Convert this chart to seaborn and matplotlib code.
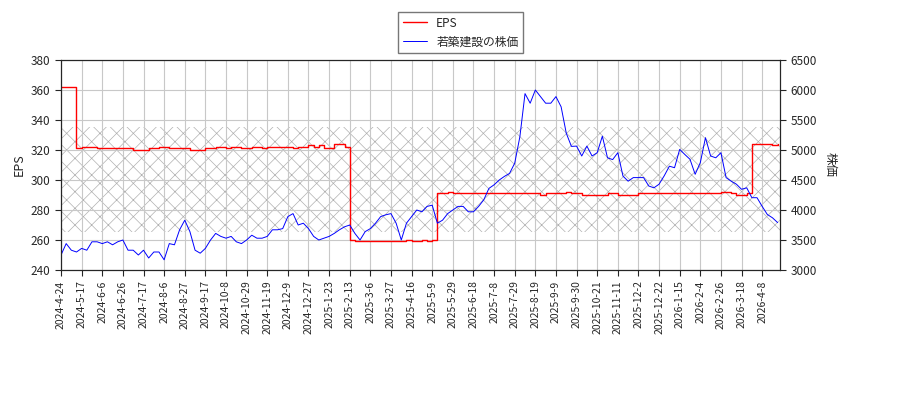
import matplotlib
matplotlib.use("Agg")
import matplotlib.pyplot as plt
import seaborn as sns
import pandas as pd
import numpy as np

sns.set_style("white")
plt.rcParams['font.family'] = ['Noto Sans CJK JP', 'DejaVu Sans']
plt.rcParams['hatch.linewidth'] = 0.5

# four readings per tick interval
price = [3250, 3440, 3330, 3300,  3360, 3330, 3470, 3470,  3440, 3470, 3420, 3470,
         3500, 3330, 3330, 3250,  3330, 3200, 3300, 3300,  3170, 3440, 3420, 3670,
         3830, 3640, 3330, 3280,  3360, 3500, 3610, 3560,  3530, 3560, 3470, 3440,
         3500, 3580, 3530, 3530,  3560, 3670, 3670, 3690,  3890, 3940, 3750, 3780,
         3690, 3560, 3500, 3530,  3560, 3610, 3670, 3720,  3750, 3610, 3500, 3640,
         3690, 3780, 3890, 3920,  3940, 3780, 3500, 3780,  3890, 4000, 3970, 4060,
         4080, 3780, 3830, 3940,  4000, 4060, 4060, 3970,  3970, 4060, 4170, 4360,
         4420, 4500, 4560, 4610,  4780, 5220, 5940, 5780,  6000, 5890, 5780, 5780,
         5890, 5720, 5280, 5060,  5065, 4900, 5065, 4900,  4955, 5230, 4870, 4840,
         4955, 4565, 4480, 4540,  4540, 4540, 4400, 4370,  4430, 4570, 4730, 4705,
         5010, 4925, 4845, 4595,  4790, 5205, 4900, 4870,  4955, 4540, 4480, 4430,
         4345, 4370, 4205, 4205,  4060, 3925, 3870, 3790]
eps = ([362, 362, 362]
       + [321, 322, 322, 322, 321, 321, 321, 321, 321, 321, 321, 320, 320, 320, 321, 321,
          322, 322, 321, 321, 321, 321, 320, 320, 320, 321, 321, 322, 322, 321, 322, 322,
          321, 321, 322, 322, 321, 322, 322, 322, 322, 322, 321, 322, 322, 323, 322, 323,
          321, 321, 324, 324, 322]
       + [260, 259, 259, 259, 259, 259, 259, 259, 259, 259, 259, 260, 259, 259, 260, 259, 260]
       + [291, 291, 292, 291, 291, 291, 291, 291, 291, 291, 291, 291, 291, 291, 291, 291,
          291, 291, 291, 291, 290, 291, 291, 291, 291, 292, 291, 291, 290, 290, 290, 290,
          290, 291, 291, 290, 290, 290, 290, 291, 291, 291, 291, 291, 291, 291, 291, 291,
          291, 291, 291, 291, 291, 291, 291, 292, 292, 291, 290, 290, 291]
       + [324, 324, 324, 324, 323, 324])
n = min(len(price), len(eps))
df = pd.DataFrame({"pos": np.arange(n) / 4.0, "price": price[:n], "eps": eps[:n]})

tick_labels = ["2024-4-24", "2024-5-17", "2024-6-6", "2024-6-26", "2024-7-17", "2024-8-6",
               "2024-8-27", "2024-9-17", "2024-10-8", "2024-10-29", "2024-11-19", "2024-12-9",
               "2024-12-27", "2025-1-23", "2025-2-13", "2025-3-6", "2025-3-27", "2025-4-16",
               "2025-5-9", "2025-5-29", "2025-6-18", "2025-7-8", "2025-7-29", "2025-8-19",
               "2025-9-9", "2025-9-30", "2025-10-21", "2025-11-11", "2025-12-2", "2025-12-22",
               "2026-1-15", "2026-2-4", "2026-2-26", "2026-3-18", "2026-4-8"]

fig = plt.figure(figsize=(9, 4), dpi=100)
ax = fig.add_axes([0.0678, 0.325, 0.799, 0.525])
ax.axhspan(265, 335, fill=False, hatch='xx', edgecolor='#b0b0b0', lw=0, zorder=0)
sns.lineplot(data=df, x="pos", y="eps", ax=ax, color="red", lw=1, drawstyle="steps-post",
             label="EPS", legend=False)
ax2 = ax.twinx()
sns.lineplot(data=df, x="pos", y="price", ax=ax2, color="blue", lw=0.7, label="若築建設の株価",
             legend=False)

ax.set_ylim(240, 380)
ax2.set_ylim(3000, 6500)
ax.set_xlim(0, 34.87)
ax.set_yticks(range(240, 381, 20))
ax2.set_yticks(range(3000, 6501, 500))
ax.set_xticks(range(len(tick_labels)))
ax.set_xticklabels(tick_labels, rotation=90, fontsize=7.5)
ax.tick_params(axis='y', labelsize=8.5, length=4, left=True)
ax2.tick_params(axis='y', labelsize=8.5, length=4, right=True)
ax.tick_params(axis='x', length=4, bottom=True)
ax.grid(True, color='#c8c8c8', lw=0.8)
ax.set_axisbelow(True)
ax.set_xlabel("")
ax.set_ylabel("EPS", fontsize=9)
ax2.set_ylabel("株価", fontsize=9, rotation=270, labelpad=14)
for s in ax.spines.values():
    s.set_color('black')

h1, l1 = ax.get_legend_handles_labels()
h2, l2 = ax2.get_legend_handles_labels()
fig.legend(h1 + h2, l1 + l2, loc="upper center", bbox_to_anchor=(0.512, 0.985), fontsize=8.5,
           frameon=True, fancybox=False, edgecolor='#555555')
fig.savefig("out.png", dpi=100)
